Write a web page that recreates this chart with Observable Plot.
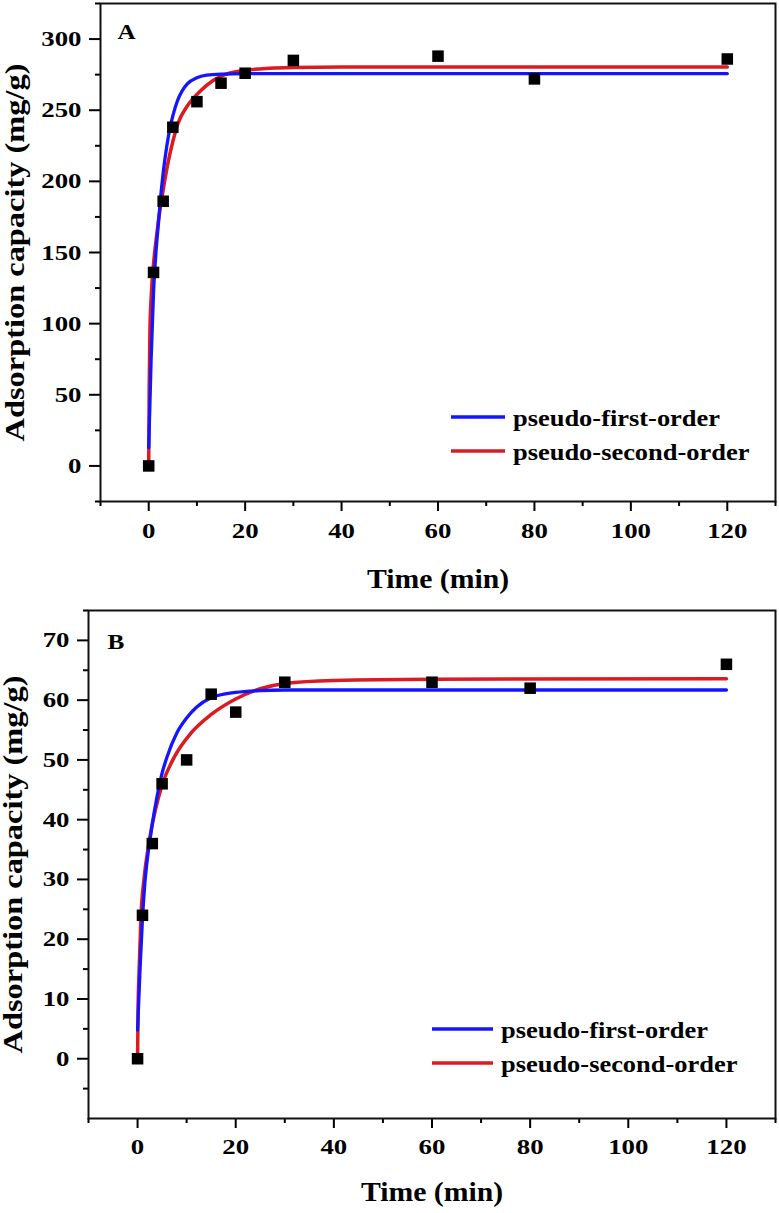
<!DOCTYPE html>
<html>
<head>
<meta charset="utf-8">
<script src="https://cdn.jsdelivr.net/npm/d3@7"></script>
<script src="https://cdn.jsdelivr.net/npm/@observablehq/plot@0.6"></script>
<style>
  html, body { margin: 0; padding: 0; background: #fff; }
  svg { display: block; }
</style>
</head>
<body>
<div id="chart"></div>
<script>
// ---------- data ----------
const timeMin   = [0, 1, 3, 5, 10, 15, 20, 30, 60, 80, 120];
const capacityA = [0, 136, 186, 238, 256, 269, 276, 285, 288, 272, 286];
const capacityB = [0, 24, 36, 46, 50, 61, 58, 63, 63, 62, 66];

// fitted curves
const pfoTimeA = [0, 0.5, 1, 1.5, 2, 2.5, 3, 3.5, 4, 4.5, 5, 6, 7, 8, 10, 12, 15, 20, 30, 60, 120];
const pfoQA    = [13, 75, 122, 150, 170, 190, 206, 219, 230, 239, 246, 257, 264, 268.5, 272.8, 274.6, 275.4, 275.7, 275.7, 275.7, 275.7];
const psoTimeA = [0, 0.1, 0.25, 0.5, 1, 1.5, 2, 3, 4, 5, 6, 8, 10, 12, 15, 20, 25, 30, 40, 60, 120];
const psoQA    = [0, 55, 95, 118, 142, 158, 172, 194, 213, 228, 240, 253, 261, 267.5, 274, 278, 279.5, 280.1, 280.4, 280.4, 280.4];

const pfoTimeB = [0, 0.5, 1, 1.5, 2, 2.5, 3, 4, 5, 6, 8, 10, 12, 15, 20, 25, 30, 60, 120];
const pfoQB    = [4.8, 15, 23.5, 29.5, 33.5, 36.5, 39.3, 44, 47.8, 50.5, 54.5, 57, 58.8, 60.4, 61.3, 61.6, 61.7, 61.7, 61.7];
const psoTimeB = [0, 0.1, 0.3, 0.7, 1.3, 2.3, 3.6, 5, 7.5, 11, 15, 20, 25, 30, 40, 60, 120];
const psoQB    = [0, 8, 14.5, 24, 30, 36, 41.5, 45.8, 50.5, 54.6, 57.6, 60.2, 61.9, 62.8, 63.3, 63.5, 63.6];

const xTicks      = [0, 20, 40, 60, 80, 100, 120];
const xMinorTicks = [-10, 10, 30, 50, 70, 90, 110, 130];
const yTicksA      = [0, 50, 100, 150, 200, 250, 300];
const yMinorTicksA = [-25, 25, 75, 125, 175, 225, 275, 325];
const yTicksB      = [0, 10, 20, 30, 40, 50, 60, 70];
const yMinorTicksB = [-5, 5, 15, 25, 35, 45, 55, 65, 75];

const seriesNames  = ["pseudo-first-order", "pseudo-second-order"];
const seriesColors = ["#1414ff", "#dc1a22"];
const panelLetters = ["A", "B"];
const xTitle = "Time (min)";
const yTitle = "Adsorption capacity (mg/g)";

const FONT = "'Liberation Serif', 'Times New Roman', Times, serif";

// ---------- helpers ----------
function stretch(nodes, sx) {
  for (const el of nodes) {
    let tr = el.getAttribute("transform") || "";
    const x = el.getAttribute("x");
    if (x != null && x !== "" && !isNaN(+x)) {
      tr += ` translate(${+x},0)`;
      el.removeAttribute("x");
    }
    el.setAttribute("transform", `${tr} scale(${sx},1)`);
  }
}

function panel(o) {
  const pts = o.time.map((t, i) => ({t, q: o.q[i]}));
  const pfo = o.pfoT.map((t, i) => ({t, q: o.pfoQ[i]}));
  const pso = o.psoT.map((t, i) => ({t, q: o.psoQ[i]}));

  const svg = Plot.plot({
    width: 779,
    height: o.height,
    marginTop: o.mt, marginBottom: o.mb, marginLeft: o.ml, marginRight: o.mr,
    style: {fontFamily: FONT, fontWeight: "bold", color: "#000", background: "#fff", overflow: "visible"},
    x: {domain: [-10, 130]},
    y: {domain: o.yDomain},
    marks: [
      Plot.line(pso, {x: "t", y: "q", stroke: seriesColors[1], strokeWidth: 3.5, curve: "monotone-x"}),
      Plot.line(pfo, {x: "t", y: "q", stroke: seriesColors[0], strokeWidth: 3.3, curve: "monotone-x"}),
      Plot.dot(pts, {x: "t", y: "q", symbol: "square", r: 6.5, fill: "#000"}),
      Plot.axisX(xMinorTicks, {tickSize: 5, tickFormat: () => "", strokeWidth: 2, label: null}),
      Plot.axisX(xTicks, {tickSize: 10, tickPadding: o.xPad, fontSize: 22, strokeWidth: 2, label: null, tickFormat: d => String(d)}),
      Plot.axisY(o.yMinor, {tickSize: 5, tickFormat: () => "", strokeWidth: 2, label: null}),
      Plot.axisY(o.yTicks, {tickSize: 11, tickPadding: 8, fontSize: 22, strokeWidth: 2, label: null, tickFormat: d => String(d)}),
      Plot.frame({stroke: "#111", strokeWidth: 2}),
      Plot.text([xTitle], {frameAnchor: "bottom", dy: o.xTitleDy, lineAnchor: "bottom", textAnchor: "middle", fontSize: 27, text: d => d}),
      Plot.text([yTitle], {frameAnchor: "left", dx: o.yTitleDx, rotate: -90, lineAnchor: "middle", textAnchor: "middle", fontSize: 27, text: d => d}),
      Plot.text([o.letter], {frameAnchor: "top-left", dx: o.letterDx, dy: o.letterDy, lineAnchor: "bottom", textAnchor: "start", fontSize: 21, text: d => d})
    ]
  });

  const s = d3.select(svg);
  stretch(s.selectAll('g[aria-label="x-axis tick label"] text').nodes(), 1.22);
  stretch(s.selectAll('g[aria-label="y-axis tick label"] text').nodes(), 1.22);
  const textGroups = s.selectAll('g[aria-label="text"]').nodes();
  if (textGroups[0]) stretch(textGroups[0].querySelectorAll("text"), 1.1);
  if (textGroups[1]) stretch(textGroups[1].querySelectorAll("text"), 1.2);
  if (textGroups[2]) stretch(textGroups[2].querySelectorAll("text"), 1.2);

  // legend inside the frame
  const g = s.append("g")
    .attr("font-family", FONT).attr("font-weight", "bold")
    .attr("fill", "#000").attr("text-anchor", "start");
  seriesNames.forEach((name, i) => {
    const y = o.legY + i * 34;
    g.append("line")
      .attr("x1", o.legX).attr("x2", o.legX + o.legW)
      .attr("y1", y).attr("y2", y)
      .attr("stroke", seriesColors[i]).attr("stroke-width", 3.5);
    g.append("text")
      .attr("text-anchor", "start")
      .attr("transform", `translate(${o.legX + o.legW + 8},${y + 9}) scale(1.15,1)`)
      .attr("font-size", 23)
      .text(name);
  });
  return svg;
}

const root = document.getElementById("chart");
root.appendChild(panel({
  time: timeMin, q: capacityA,
  pfoT: pfoTimeA, pfoQ: pfoQA, psoT: psoTimeA, psoQ: psoQA,
  yDomain: [-25, 325], yTicks: yTicksA, yMinor: yMinorTicksA,
  letter: panelLetters[0],
  height: 606, mt: 3, mb: 105, ml: 100, mr: 4,
  xPad: 11, xTitleDy: 86, yTitleDx: -85, letterDx: 17, letterDy: 35,
  legX: 451, legW: 54, legY: 417
}));
root.appendChild(panel({
  time: timeMin, q: capacityB,
  pfoT: pfoTimeB, pfoQ: pfoQB, psoT: psoTimeB, psoQ: psoQB,
  yDomain: [-10, 75], yTicks: yTicksB, yMinor: yMinorTicksB,
  letter: panelLetters[1],
  height: 607, mt: 4, mb: 95, ml: 88, mr: 4,
  xPad: 10, xTitleDy: 82, yTitleDx: -75, letterDx: 19, letterDy: 38,
  legX: 432, legW: 61, legY: 423
}));
</script>
</body>
</html>
